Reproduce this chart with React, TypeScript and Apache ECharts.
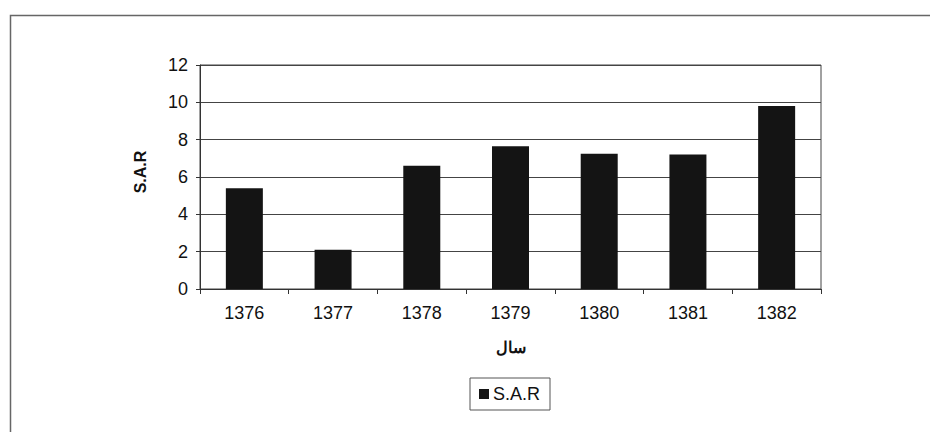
import React, { useEffect, useRef } from "react";
import * as echarts from "echarts";

const categories: string[] = ["1376", "1377", "1378", "1379", "1380", "1381", "1382"];
const sarValues: number[] = [5.4, 2.1, 6.6, 7.65, 7.25, 7.2, 9.8];
const seriesName = "S.A.R";
const xAxisName = "سال";
const yAxisName = "S.A.R";
const yMin = 0;
const yMax = 12;
const yInterval = 2;

const FONT = "'Liberation Sans', Arial, sans-serif";

export default function App() {
  const ref = useRef<HTMLDivElement>(null);

  useEffect(() => {
    if (!ref.current) return;
    const chart = echarts.init(ref.current, null, { renderer: "svg" });
    chart.setOption({
      animation: false,
      backgroundColor: "#ffffff",
      textStyle: { fontFamily: FONT, color: "#111" },
      graphic: [
        {
          type: "rect",
          shape: { x: 10.5, y: 15.5, width: 1000, height: 500 },
          style: { fill: "none", stroke: "#666", lineWidth: 1.5 },
          silent: true,
        },
      ],
      grid: {
        left: 200,
        top: 65,
        right: 109,
        bottom: 143,
        show: true,
        borderColor: "#444",
        borderWidth: 1,
        containLabel: false,
      },
      legend: {
        data: [seriesName],
        left: 470,
        top: 378,
        orient: "horizontal",
        itemWidth: 10,
        itemHeight: 10,
        itemGap: 5,
        padding: [7, 10, 7, 9],
        borderColor: "#555",
        borderWidth: 1,
        icon: "rect",
        textStyle: { fontFamily: FONT, fontSize: 18, color: "#111", padding: [0, 0, 0, -1] },
      },
      xAxis: {
        type: "category",
        data: categories,
        boundaryGap: true,
        name: xAxisName,
        nameLocation: "middle",
        nameGap: 50,
        nameTextStyle: { fontFamily: FONT, fontSize: 16, fontWeight: "bold", color: "#111" },
        axisLine: { show: true, lineStyle: { color: "#333", width: 1 } },
        axisTick: { show: true, alignWithLabel: false, length: 5, lineStyle: { color: "#333" } },
        axisLabel: { fontFamily: FONT, fontSize: 18, color: "#111", margin: 15 },
        splitLine: { show: false },
      },
      yAxis: {
        type: "value",
        min: yMin,
        max: yMax,
        interval: yInterval,
        name: yAxisName,
        nameLocation: "middle",
        nameRotate: 90,
        nameGap: 52,
        nameTextStyle: { fontFamily: FONT, fontSize: 16, fontWeight: "bold", color: "#111", padding: [0, 0, 0, 10] },
        axisLine: { show: true, lineStyle: { color: "#333", width: 1 } },
        axisTick: { show: true, length: 4, lineStyle: { color: "#333" } },
        axisLabel: { fontFamily: FONT, fontSize: 18, color: "#111", margin: 12 },
        splitLine: { show: true, lineStyle: { color: "#444", width: 1 } },
      },
      series: [
        {
          name: seriesName,
          type: "bar",
          data: sarValues,
          barWidth: 37,
          itemStyle: { color: "#141414" },
        },
      ],
    });
    return () => chart.dispose();
  }, []);

  return (
    <div
      ref={ref}
      style={{ position: "fixed", left: 0, top: 0, width: 930, height: 432, background: "#fff" }}
    />
  );
}
